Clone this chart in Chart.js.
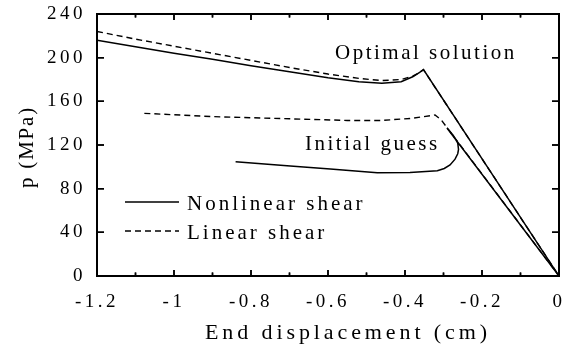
<!DOCTYPE html>
<html>
<head>
<meta charset="utf-8">
<script src="https://cdn.jsdelivr.net/npm/chart.js@4/dist/chart.umd.min.js"></script>
<style>
  html, body { margin: 0; padding: 0; background: #fff; }
  #wrap { position: relative; width: 570px; height: 346px; }
  #c { position: absolute; left: 0; top: 0; }
  #ov { position: absolute; left: 0; top: 0; pointer-events: none; }
</style>
</head>
<body>
<div id="wrap">
  <canvas id="c" width="570" height="346"></canvas>
  <canvas id="ov" width="570" height="346"></canvas>
</div>
<script>
// ---- data ----
const xTicks = [-1.2, -1, -0.8, -0.6, -0.4, -0.2, 0];
const xTickLabels = ['-1.2', '-1', '-0.8', '-0.6', '-0.4', '-0.2', '0'];
const xMinorTicks = [-1.1, -0.9, -0.7, -0.5, -0.3, -0.1];
const yTicks = [0, 40, 80, 120, 160, 200, 240];
const yTickLabels = ['0', '40', '80', '120', '160', '200', '240'];

const xTitle = 'End displacement (cm)';
const yTitle = 'p (MPa)';
const legendLabels = ['Nonlinear shear', 'Linear shear'];
const annotationLabels = ['Optimal solution', 'Initial guess'];

// optimal solution
const optNonlinX = [-1.2, -1.1, -1.0, -0.9, -0.8, -0.7, -0.6, -0.52, -0.46, -0.41, -0.38, -0.362, -0.352, 0];
const optNonlinY = [216, 210, 204, 198.5, 192.5, 187, 181.5, 178, 176.5, 178, 182.5, 186.5, 189, 0];
const optLinX = [-1.2, -1.1, -1.0, -0.9, -0.8, -0.7, -0.6, -0.52, -0.46, -0.41, -0.38, -0.362, -0.352, 0];
const optLinY = [224, 217, 210.5, 204, 197.5, 191, 185, 181, 179, 180, 183, 186.5, 189, 0];

// initial guess
const initLinX = [-1.077, -0.9, -0.7, -0.55, -0.46, -0.38, -0.322, -0.306, 0];
const initLinY = [149, 146, 144, 142.5, 142.5, 144.5, 147.5, 143, 0];
const initNonlinX = [-0.84, -0.698, -0.594, -0.472, -0.387, -0.316, -0.298, -0.283, -0.27, -0.263, -0.261, -0.263, -0.275, -0.291, 0];
const initNonlinY = [104.7, 100.8, 98, 94.6, 94.8, 96.5, 98.5, 101.7, 107, 112, 116, 121.8, 129, 135.6, 0];

function pts(xs, ys) { return xs.map((x, i) => ({ x: x, y: ys[i] })); }

const SERIF = '"Liberation Serif", serif';
const DASH = [6, 4];

// frame + inward ticks, positioned through the chart's own scales
function drawFrame(ctx, chart) {
  const area = chart.chartArea;
  const L = area.left, T = area.top, R = area.right, B = area.bottom;
  const sx = chart.scales.x, sy = chart.scales.y;
  ctx.save();
  ctx.setTransform(1, 0, 0, 1, 0, 0);
  ctx.globalAlpha = 1;
  ctx.globalCompositeOperation = 'source-over';
  ctx.setLineDash([]);
  ctx.strokeStyle = '#000';
  ctx.lineWidth = 2;
  ctx.beginPath();
  ctx.moveTo(L, T); ctx.lineTo(R, T); ctx.lineTo(R, B); ctx.lineTo(L, B); ctx.closePath();
  ctx.stroke();
  ctx.lineWidth = 1.5;
  ctx.beginPath();
  xTicks.forEach(v => {
    const px = sx.getPixelForValue(v);
    ctx.moveTo(px, B); ctx.lineTo(px, B - 6);
    ctx.moveTo(px, T); ctx.lineTo(px, T + 6);
  });
  xMinorTicks.forEach(v => {
    const px = sx.getPixelForValue(v);
    ctx.moveTo(px, B); ctx.lineTo(px, B - 3.5);
    ctx.moveTo(px, T); ctx.lineTo(px, T + 3.5);
  });
  yTicks.forEach(v => {
    const py = sy.getPixelForValue(v);
    ctx.moveTo(L, py); ctx.lineTo(L + 7, py);
    ctx.moveTo(R, py); ctx.lineTo(R - 7, py);
  });
  ctx.stroke();
  ctx.restore();
}

const decor = {
  id: 'decor',
  beforeDraw(chart) { chart.ctx.letterSpacing = '3.5px'; },
  afterDraw(chart) {
    const ctx = chart.ctx;
    ctx.save();
    ctx.fillStyle = '#000';
    ctx.strokeStyle = '#000';
    ctx.textBaseline = 'alphabetic';
    ctx.textAlign = 'left';

    ctx.font = '21px ' + SERIF;
    ctx.letterSpacing = '2.5px';
    ctx.fillText(annotationLabels[0], 335, 59);
    ctx.fillText(annotationLabels[1], 305, 150);

    ctx.font = '22px ' + SERIF;
    ctx.letterSpacing = '3.9px';
    ctx.fillText(xTitle, 205, 339);

    const ds = chart.data.datasets;
    const rows = [[ds[0], 202, 210], [ds[1], 231, 239]];
    rows.forEach((r, i) => {
      ctx.font = '21px ' + SERIF;
      ctx.letterSpacing = '3px';
      ctx.fillText(legendLabels[i], 187, r[2]);
      ctx.lineWidth = r[0].borderWidth;
      ctx.setLineDash(r[0].borderDash || []);
      ctx.beginPath(); ctx.moveTo(125, r[1]); ctx.lineTo(179, r[1]); ctx.stroke();
    });
    ctx.setLineDash([]);

    ctx.translate(33, 188);
    ctx.rotate(-Math.PI / 2);
    ctx.font = '21px ' + SERIF;
    ctx.letterSpacing = '1.8px';
    ctx.fillText(yTitle, 0, 0);
    ctx.restore();

    ctx.letterSpacing = '0px';
    drawFrame(ctx, chart);
  }
};

const chart = new Chart(document.getElementById('c'), {
  type: 'line',
  data: {
    datasets: [
      { label: 'Nonlinear shear (optimal)', data: pts(optNonlinX, optNonlinY), borderColor: '#000', borderWidth: 1.5, pointRadius: 0, tension: 0 },
      { label: 'Linear shear (optimal)', data: pts(optLinX, optLinY), borderColor: '#000', borderWidth: 1.4, borderDash: DASH, pointRadius: 0, tension: 0 },
      { label: 'Nonlinear shear (initial)', data: pts(initNonlinX, initNonlinY), borderColor: '#000', borderWidth: 1.5, pointRadius: 0, tension: 0 },
      { label: 'Linear shear (initial)', data: pts(initLinX, initLinY), borderColor: '#000', borderWidth: 1.4, borderDash: DASH, pointRadius: 0, tension: 0 }
    ]
  },
  options: {
    responsive: false, animation: false, devicePixelRatio: 1,
    layout: { padding: { left: 0, top: 14, right: 11, bottom: 0 } },
    plugins: { legend: { display: false }, tooltip: { enabled: false } },
    scales: {
      x: {
        type: 'linear', min: -1.2, max: 0,
        grid: { display: false, drawTicks: false }, border: { display: false },
        afterBuildTicks: s => { s.ticks = xTicks.map(v => ({ value: v })); },
        afterFit: s => { s.height = 70; s.paddingLeft = 0; s.paddingRight = 0; },
        ticks: { autoSkip: false, maxRotation: 0, minRotation: 0, padding: 15, color: '#000',
          font: { family: SERIF, size: 19 }, callback: (v, i) => xTickLabels[i] }
      },
      y: {
        type: 'linear', min: 0, max: 240,
        grid: { display: false, drawTicks: false }, border: { display: false },
        afterBuildTicks: s => { s.ticks = yTicks.map(v => ({ value: v })); },
        afterFit: s => { s.width = 97; s.paddingTop = 0; s.paddingBottom = 0; },
        ticks: { autoSkip: false, padding: 11, color: '#000',
          font: { family: SERIF, size: 19 }, callback: (v, i) => yTickLabels[i] }
      }
    }
  },
  plugins: [decor]
});

// same frame also on a transparent overlay canvas, from the chart's scales
const ov = document.getElementById('ov').getContext('2d');
function drawOverlay() {
  ov.clearRect(0, 0, 570, 346);
  drawFrame(ov, chart);
}
drawOverlay();
setTimeout(drawOverlay, 50);
</script>
</body>
</html>
